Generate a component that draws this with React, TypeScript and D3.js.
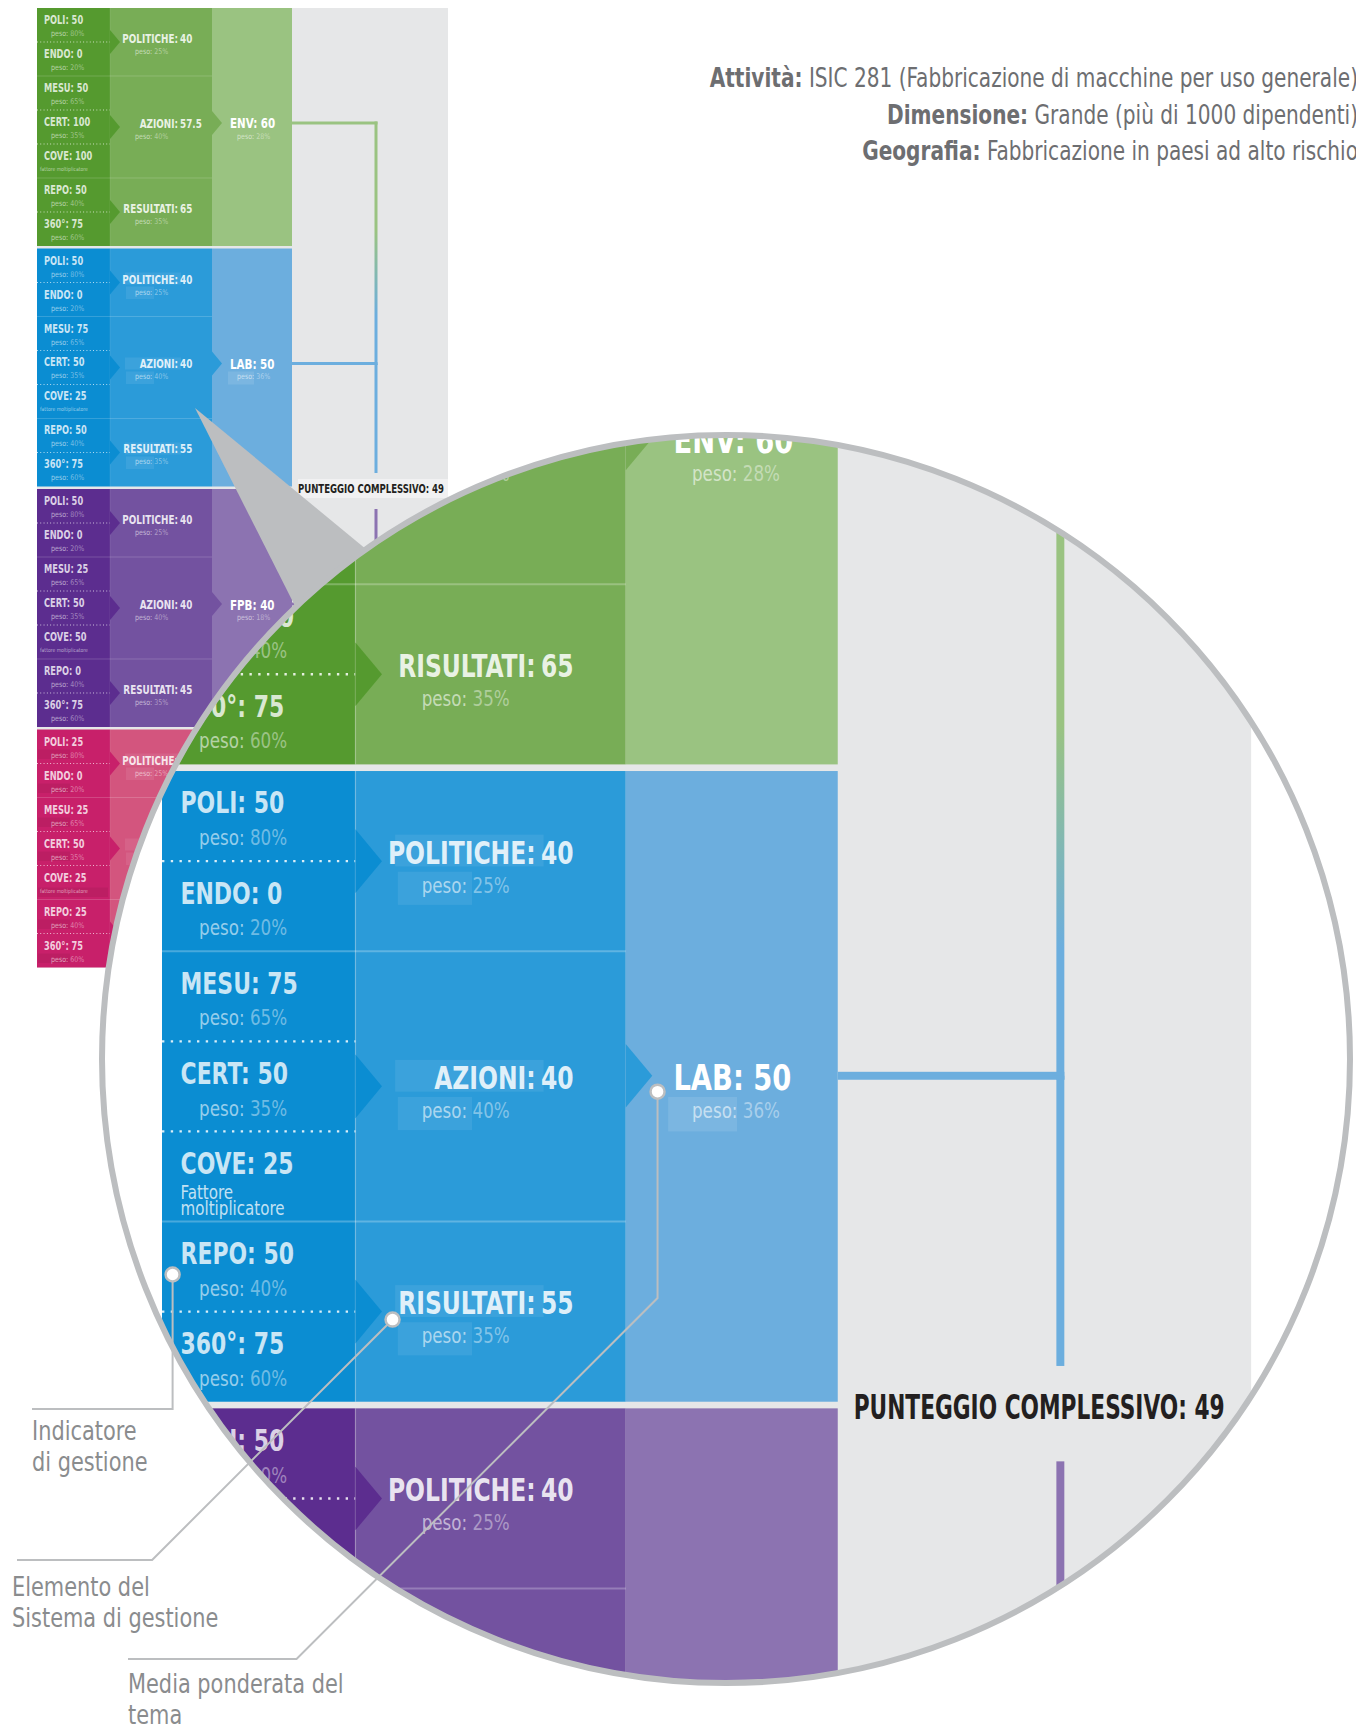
import React from "react";
import * as d3 from "d3";

// ---- data ----
const themes = ["ENV", "LAB", "FPB", "SUP"];
const themeScores = [60, 50, 40, 37];
const themeWeights = ["28%", "36%", "18%", "18%"];
const overallScore = 49;

const elementNames = ["POLITICHE", "AZIONI", "RESULTATI"];
const elementNamesZoom = ["POLITICHE", "AZIONI", "RISULTATI"];
const elementWeights = ["25%", "40%", "35%"];
const elementRowSpans = [[0, 2], [2, 5], [5, 7]];
const elementScores = [
  [40, 57.5, 65],
  [40, 40, 55],
  [40, 40, 45],
  [20, 35, 55],
];

const indicators = ["POLI", "ENDO", "MESU", "CERT", "COVE", "REPO", "360°"];
const indicatorWeights = ["80%", "20%", "65%", "35%", "", "40%", "60%"];
const indicatorScores = [
  [50, 0, 50, 100, 100, 50, 75],
  [50, 0, 75, 50, 25, 50, 75],
  [50, 0, 25, 50, 50, 0, 75],
  [25, 0, 25, 50, 25, 25, 75],
];

const infoLabels = ["Attività:", "Dimensione:", "Geografia:"];
const infoValues = [
  "ISIC 281 (Fabbricazione di macchine per uso generale)",
  "Grande (più di 1000 dipendenti)",
  "Fabbricazione in paesi ad alto rischio",
];

const calloutLines = [
  ["Indicatore", "di gestione"],
  ["Elemento del", "Sistema di gestione"],
  ["Media ponderata del", "tema"],
];

// ---- styling / layout ----
const palette = [
  ["#559a2f", "#78ad56", "#9ac381"],
  ["#0b8dd2", "#2b9bd9", "#6caede"],
  ["#5c2d8f", "#7352a0", "#8c73b1"],
  ["#c8206a", "#d3557e", "#df89a5"],
];
const FONT = "'Liberation Sans Narrow', 'DejaVu Sans Condensed', Roboto, sans-serif";
const GREY = "#bcbec0";

const colW = [73, 102, 80, 156];
const colX = [0, ...Array.from(d3.cumsum(colW))];
const blockY = d3.scaleBand<string>().domain(themes).range([0, 959.5]).paddingInner(0.0104);
const bw = blockY.bandwidth();
const rowY = d3.scaleLinear().domain([0, 7]).range([0, bw]);
const mid = (t: string) => (blockY(t) ?? 0) + bw / 2;
const joinY = (t: string) => mid(t) - 4;
const lineX = colX[3] + 84;

// placement of the two copies of the chart
const SMALL = { x: 37, y: 8, k: 1 };
const ZOOM = { x: 162, y: 133.7, k: 2.65 };
const toZoom = (x: number, y: number) => [ZOOM.x + x * ZOOM.k, ZOOM.y + y * ZOOM.k];
const CIRCLE = { cx: 726, cy: 1059, r: 624 };

// condensed text: the fallback fonts are wider than the DIN-like original
function T({ x, y, sx = 1, children, ...rest }: any) {
  return (
    <text transform={`translate(${x},${y}) scale(${sx},1)`} {...rest}>
      {children}
    </text>
  );
}

function Panel({ zoom }: { zoom: boolean }) {
  const names = zoom ? elementNamesZoom : elementNames;
  return (
    <g fontFamily={FONT}>
      <rect x={0} y={0} width={colX[4]} height={959.5} fill="#e6e7e8" />
      {themes.map((t, ti) => {
        const [c1, c2, c3] = palette[ti];
        // the LAB and SUP blocks carry faint label boxes in the original
        const boxed = ti === 1 || ti === 3;
        return (
          <g key={t} transform={`translate(0,${blockY(t)})`}>
            <rect x={colX[0]} width={colW[0]} height={bw} fill={c1} />
            <rect x={colX[1]} width={colW[1]} height={bw} fill={c2} />
            <rect x={colX[2]} width={colW[2]} height={bw} fill={c3} />
            <line x1={colX[1]} x2={colX[1]} y1={0} y2={bw} stroke="#fff" strokeOpacity={0.18} strokeWidth={0.5} />
            {elementRowSpans.slice(1).map(([r0]) => (
              <line key={r0} x1={0} x2={colX[2]} y1={rowY(r0)} y2={rowY(r0)} stroke="#fff" strokeOpacity={0.25} strokeWidth={0.7} />
            ))}
            {indicators.map((_, ri) =>
              ri > 0 && !elementRowSpans.some((s) => s[0] === ri) ? (
                <line key={ri} x1={0} x2={colX[1]} y1={rowY(ri)} y2={rowY(ri)} stroke="#fff" strokeWidth={0.9} strokeDasharray="0.9 2.4" strokeOpacity={0.85} />
              ) : null
            )}
            {elementRowSpans.map(([r0, r1], ei) => {
              const cy = (rowY(r0) + rowY(r1)) / 2;
              return (
                <polygon key={ei} points={`${colX[1]},${cy - 12} ${colX[1] + 10},${cy} ${colX[1]},${cy + 12}`} fill={c1} />
              );
            })}
            <polygon points={`${colX[2]},${bw / 2 - 16} ${colX[2] + 10},${bw / 2 - 4} ${colX[2]},${bw / 2 + 8}`} fill={c2} />

            {indicators.map((ind, ri) => {
              const y = rowY(ri);
              return (
                <g key={ind}>
                  {ti === 3 && (
                    <rect x={1} y={y + (indicatorWeights[ri] ? 20 : 22)} width={indicatorWeights[ri] ? 32 : 70} height={9.5} fill="#000" fillOpacity={0.06} />
                  )}
                  <T x={7} y={y + 16} sx={0.8} fontSize={11.5} fontWeight="bold" fill="#fff" fillOpacity={0.78}>
                    {`${ind}: ${indicatorScores[ti][ri]}`}
                  </T>
                  {indicatorWeights[ri] ? (
                    <T x={14} y={y + 28} sx={0.9} fontSize={7.8} fill="#fff">
                      <tspan fillOpacity={0.58}>peso: </tspan>
                      <tspan fillOpacity={0.42}>{indicatorWeights[ri]}</tspan>
                    </T>
                  ) : zoom ? (
                    <T x={7} y={y + 25.5} sx={0.88} fontSize={7.2} fill="#fff" fillOpacity={0.75}>
                      <tspan x={0}>Fattore</tspan>
                      <tspan x={0} dy={6}>moltiplicatore</tspan>
                    </T>
                  ) : (
                    <T x={3} y={y + 27} sx={0.9} fontSize={5.6} fill="#fff" fillOpacity={0.55}>
                      fattore moltiplicatore
                    </T>
                  )}
                </g>
              );
            })}

            {elementRowSpans.map(([r0, r1], ei) => {
              const cy = (rowY(r0) + rowY(r1)) / 2;
              return (
                <g key={ei}>
                  {boxed && (
                    <>
                      <rect x={colX[1] + 15} y={cy - 10} width={56} height={12} fill="#fff" fillOpacity={0.08} />
                      <rect x={colX[1] + 16} y={cy + 4} width={28} height={12.5} fill="#fff" fillOpacity={0.08} />
                    </>
                  )}
                  <T x={colX[1] + 68} y={cy + 1} sx={0.82} fontSize={12} fontWeight="bold" fill="#fff" fillOpacity={0.86} textAnchor="end">
                    {`${names[ei]}:`}
                  </T>
                  <T x={colX[1] + 70} y={cy + 1} sx={0.82} fontSize={12} fontWeight="bold" fill="#fff" fillOpacity={0.86}>
                    {elementScores[ti][ei]}
                  </T>
                  <T x={colX[1] + 25} y={cy + 12} sx={0.9} fontSize={7.8} fill="#fff">
                    <tspan fillOpacity={0.58}>peso: </tspan>
                    <tspan fillOpacity={0.42}>{elementWeights[ei]}</tspan>
                  </T>
                </g>
              );
            })}

            {boxed && <rect x={colX[2] + 16} y={bw / 2 + 4} width={26} height={13} fill="#fff" fillOpacity={0.1} />}
            <T x={colX[2] + 18} y={bw / 2 + 1.5} sx={0.85} fontSize={13.5} fontWeight="bold" fill="#fff">
              {`${t}: ${themeScores[ti]}`}
            </T>
            <T x={colX[2] + 25} y={bw / 2 + 12} sx={0.9} fontSize={7.8} fill="#fff">
              <tspan fillOpacity={0.58}>peso: </tspan>
              <tspan fillOpacity={0.42}>{themeWeights[ti]}</tspan>
            </T>
          </g>
        );
      })}

      {/* connectors towards the overall score */}
      {themes.map((t, ti) => (
        <rect key={t} x={colX[3]} y={joinY(t) - 1.5} width={lineX + 1.5 - colX[3]} height={3} fill={palette[ti][2]} />
      ))}
      <rect x={lineX - 1.5} y={joinY("ENV") - 1.5} width={3} height={joinY("LAB") - joinY("ENV") + 3} fill="url(#envLab)" />
      <rect x={lineX - 1.5} y={joinY("LAB")} width={3} height={465 - joinY("LAB")} fill={palette[1][2]} />
      <rect x={lineX - 1.5} y={501} width={3} height={joinY("FPB") + 1.5 - 501} fill={palette[2][2]} />
      <rect x={lineX - 1.5} y={joinY("FPB")} width={3} height={joinY("SUP") - joinY("FPB") + 1.5} fill={palette[3][2]} />

      {!zoom && <rect x={261} y={471} width={150} height={19} fill="#f1f1f2" />}
      <text x={261} y={485} fontSize={13} fontWeight="bold" fill="#231f20" textLength={zoom ? 140 : 146} lengthAdjust="spacingAndGlyphs">
        {`PUNTEGGIO COMPLESSIVO: ${overallScore}`}
      </text>
    </g>
  );
}

export default function App() {
  const m1 = toZoom(4, (blockY("LAB") ?? 0) + rowY(5) + 20);
  const m2 = toZoom(colX[1] + 14, (blockY("LAB") ?? 0) + (rowY(5) + rowY(7)) / 2 + 3);
  const m3 = toZoom(colX[2] + 12, mid("LAB") + 2);
  const wedgeTip = [195, 408];
  const wedgeA = [464, 630];
  const wedgeB = [350, 715];

  const calloutPaths = [
    `M${m1[0]},${m1[1]}V1409H32`,
    `M${m2[0]},${m2[1]}L${m2[0] - (1560 - m2[1])},1560H17`,
    `M${m3[0]},${m3[1]}V1298L${m3[0] - (1659 - 1298)},1659H128`,
  ];
  const calloutPos = [
    [32, 1440],
    [12, 1596],
    [128, 1693],
  ];

  return (
    <svg width={1356} height={1724} style={{ position: "absolute", left: 0, top: 0, display: "block" }}>
      <defs>
        <linearGradient id="envLab" gradientUnits="userSpaceOnUse" x1={lineX} x2={lineX} y1={joinY("ENV")} y2={joinY("LAB")}>
          <stop offset="0.45" stopColor={palette[0][2]} />
          <stop offset="0.8" stopColor={palette[1][2]} />
        </linearGradient>
        <clipPath id="lens">
          <circle cx={CIRCLE.cx} cy={CIRCLE.cy} r={CIRCLE.r - 2} />
        </clipPath>
      </defs>
      <rect width={1356} height={1724} fill="#fff" />

      <g transform={`translate(${SMALL.x},${SMALL.y})`}>
        <Panel zoom={false} />
      </g>

      <g fontFamily={FONT} fontSize={26} fill="#6d6e71" textAnchor="end">
        {infoLabels.map((l, i) => (
          <T key={l} x={1358} y={87 + i * 36.5} sx={0.86}>
            <tspan fontWeight="bold">{l}</tspan>
            <tspan>{` ${infoValues[i]}`}</tspan>
          </T>
        ))}
      </g>

      <polygon points={[wedgeTip, wedgeA, wedgeB].map((p) => p.join(",")).join(" ")} fill={GREY} />

      <circle cx={CIRCLE.cx} cy={CIRCLE.cy} r={CIRCLE.r} fill="#fff" />
      <g clipPath="url(#lens)">
        <g transform={`translate(${ZOOM.x},${ZOOM.y}) scale(${ZOOM.k})`}>
          <Panel zoom={true} />
        </g>
      </g>
      <circle cx={CIRCLE.cx} cy={CIRCLE.cy} r={CIRCLE.r} fill="none" stroke={GREY} strokeWidth={6} />

      {calloutPaths.map((d, i) => (
        <path key={i} d={d} fill="none" stroke={GREY} strokeWidth={2} />
      ))}
      {[m1, m2, m3].map((m, i) => (
        <circle key={i} cx={m[0]} cy={m[1]} r={7} fill="#fff" stroke={GREY} strokeWidth={2.5} />
      ))}
      <g fontFamily={FONT} fontSize={27} fill="#8a8c8e">
        {calloutLines.map((lines, i) => (
          <T key={i} x={calloutPos[i][0]} y={calloutPos[i][1]} sx={0.86}>
            {lines.map((s, j) => (
              <tspan key={j} x={0} dy={j === 0 ? 0 : 31}>
                {s}
              </tspan>
            ))}
          </T>
        ))}
      </g>
    </svg>
  );
}
